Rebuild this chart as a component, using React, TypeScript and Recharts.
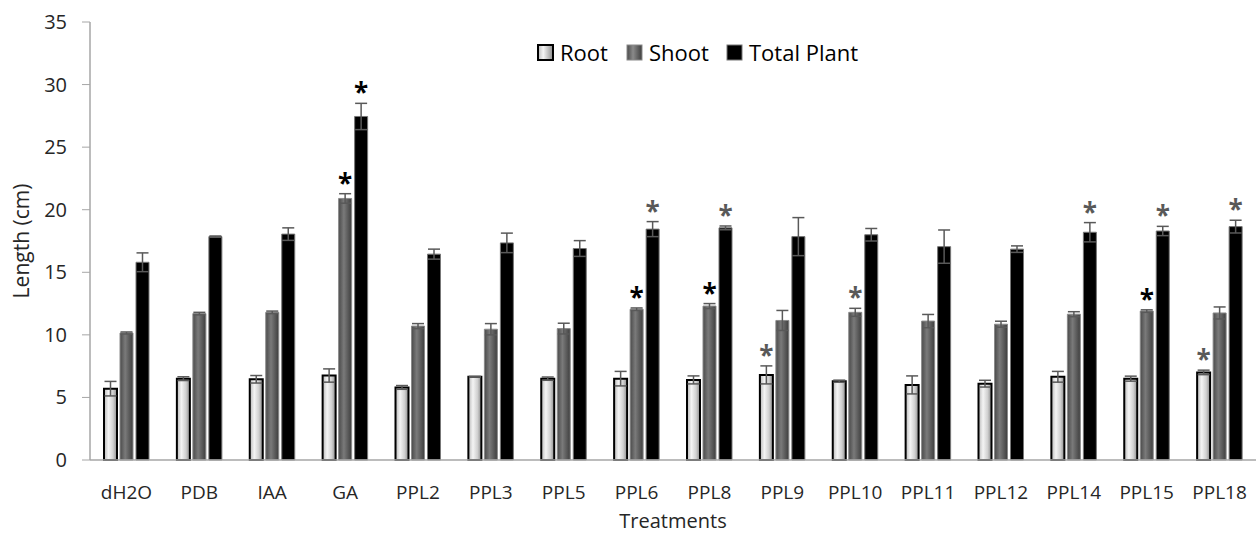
import { BarChart, Bar, XAxis, YAxis, ErrorBar, LabelList } from 'recharts'

const categories = ['dH2O', 'PDB', 'IAA', 'GA', 'PPL2', 'PPL3', 'PPL5', 'PPL6', 'PPL8', 'PPL9', 'PPL10', 'PPL11', 'PPL12', 'PPL14', 'PPL15', 'PPL18']
const root = [5.7, 6.5, 6.45, 6.75, 5.8, 6.65, 6.5, 6.5, 6.4, 6.8, 6.3, 6.0, 6.1, 6.65, 6.5, 7.0]
const rootErr = [0.58, 0.15, 0.3, 0.53, 0.15, 0.03, 0.13, 0.58, 0.32, 0.72, 0.08, 0.72, 0.27, 0.43, 0.2, 0.18]
const shoot = [10.15, 11.7, 11.8, 20.9, 10.7, 10.45, 10.5, 12.05, 12.3, 11.15, 11.8, 11.1, 10.85, 11.65, 11.9, 11.75]
const shootErr = [0.08, 0.1, 0.1, 0.38, 0.2, 0.45, 0.43, 0.1, 0.2, 0.8, 0.32, 0.53, 0.24, 0.2, 0.1, 0.48]
const total = [15.8, 17.85, 18.05, 27.45, 16.45, 17.35, 16.9, 18.45, 18.55, 17.85, 18.0, 17.05, 16.85, 18.2, 18.3, 18.65]
const totalErr = [0.75, 0.05, 0.5, 1.05, 0.4, 0.78, 0.63, 0.6, 0.15, 1.52, 0.5, 1.33, 0.26, 0.77, 0.37, 0.51]
// significance marks: 0 none, 1 dark star, 2 grey star
const rootStar = [0, 0, 0, 0, 0, 0, 0, 0, 0, 2, 0, 0, 0, 0, 0, 2]
const shootStar = [0, 0, 0, 1, 0, 0, 0, 1, 1, 0, 2, 0, 0, 0, 1, 0]
const totalStar = [0, 0, 0, 1, 0, 0, 0, 2, 2, 0, 0, 0, 0, 2, 2, 2]
const yTicks = [0, 5, 10, 15, 20, 25, 30, 35]

const data = categories.map((c, i) => ({
  name: c,
  root: root[i],
  rootErr: rootErr[i],
  shoot: shoot[i],
  shootErr: shootErr[i],
  total: total[i],
  totalErr: totalErr[i],
}))

const FONT = '"Open Sans", sans-serif'
const TEXT = '#262626'
const AXIS = '#a6a6a6'

const starLabel = (errs: number[], stars: number[]) => (props: any) => {
  const { x, y, width, height, value, index } = props
  const mark = stars[index]
  if (!mark) return null
  const px = value ? (errs[index] * height) / value : 0
  const top = y - px
  return (
    <text
      x={x + width / 2}
      y={top - 1}
      textAnchor="middle"
      fontFamily={FONT}
      fontWeight={700}
      fontSize={26}
      fill={mark === 1 ? '#000' : '#595959'}
    >
      *
    </text>
  )
}

const YTick = (props: any) => {
  const { y, payload } = props
  return (
    <text x={67} y={y} dy={7} textAnchor="end" fontFamily={FONT} fontSize={20} fill={TEXT}>
      {payload.value}
    </text>
  )
}

const XTick = (props: any) => {
  const { x, payload } = props
  return (
    <text x={x} y={499} textAnchor="middle" fontFamily={FONT} fontSize={19} fill={TEXT}>
      {payload.value}
    </text>
  )
}

const legendItems = [
  { label: 'Root', left: 537, fill: 'url(#lgRoot)', stroke: '#000', sw: 2 },
  { label: 'Shoot', left: 626, fill: 'url(#lgShoot)', stroke: '#8a8a8a', sw: 1 },
  { label: 'Total Plant', left: 726, fill: '#000', stroke: '#777', sw: 1 },
]

function LegendBox() {
  return (
    <div style={{ position: 'absolute', left: 0, top: 0, fontFamily: FONT, fontSize: 22, color: '#000' }}>
      <svg width={0} height={0} style={{ position: 'absolute' }}>
        <defs>
          <linearGradient id="lgRoot" x1="0" y1="0" x2="1" y2="0">
            <stop offset="0%" stopColor="#b8b8b8" />
            <stop offset="35%" stopColor="#f4f4f4" />
            <stop offset="100%" stopColor="#8c8c8c" />
          </linearGradient>
          <linearGradient id="lgShoot" x1="0" y1="0" x2="1" y2="0">
            <stop offset="0%" stopColor="#4a4a4a" />
            <stop offset="40%" stopColor="#8a8a8a" />
            <stop offset="100%" stopColor="#3e3e3e" />
          </linearGradient>
        </defs>
      </svg>
      {legendItems.map((it) => (
        <div
          key={it.label}
          style={{ position: 'absolute', left: it.left, top: 36, height: 32, display: 'flex', alignItems: 'center', whiteSpace: 'nowrap' }}
        >
          <svg width={17} height={17} style={{ marginRight: 6 }}>
            <rect x={1} y={1} width={15} height={15} fill={it.fill} stroke={it.stroke} strokeWidth={it.sw} />
          </svg>
          <span>{it.label}</span>
        </div>
      ))}
    </div>
  )
}

export default function App() {
  return (
    <div style={{ position: 'absolute', left: 0, top: 0, width: 1256, height: 535, background: '#fff' }}>
      <BarChart
        width={1256}
        height={535}
        data={data}
        margin={{ top: 22, right: 0, left: 0, bottom: 0 }}
        barSize={13}
        barGap={3}
      >
        <defs>
          <linearGradient id="gRoot" x1="0" y1="0" x2="1" y2="0">
            <stop offset="0%" stopColor="#b8b8b8" />
            <stop offset="35%" stopColor="#f4f4f4" />
            <stop offset="70%" stopColor="#d0d0d0" />
            <stop offset="100%" stopColor="#8c8c8c" />
          </linearGradient>
          <linearGradient id="gShoot" x1="0" y1="0" x2="1" y2="0">
            <stop offset="0%" stopColor="#4a4a4a" />
            <stop offset="40%" stopColor="#7a7a7a" />
            <stop offset="100%" stopColor="#3e3e3e" />
          </linearGradient>
        </defs>
        <XAxis
          dataKey="name"
          height={75}
          axisLine={{ stroke: AXIS, strokeWidth: 1.5 }}
          tickLine={false}
          tick={XTick}
          interval={0}
          label={{ value: 'Treatments', position: 'insideBottom', offset: 7, fontSize: 20, fill: TEXT, fontFamily: FONT }}
        />
        <YAxis
          width={90}
          domain={[0, 35]}
          ticks={yTicks}
          interval={0}
          axisLine={{ stroke: AXIS, strokeWidth: 1.5 }}
          tickLine={{ stroke: AXIS }}
          tickSize={8}
          tick={YTick}
          label={{
            value: 'Length (cm)',
            angle: -90,
            position: 'insideLeft',
            offset: 22,
            style: { textAnchor: 'middle', fontSize: 21, fill: TEXT, fontFamily: FONT },
          }}
        />
        <Bar dataKey="root" name="Root" fill="url(#gRoot)" stroke="#000" strokeWidth={2} isAnimationActive={false}>
          <ErrorBar dataKey="rootErr" direction="y" width={6} stroke="#595959" strokeWidth={1.5} />
          <LabelList dataKey="root" content={starLabel(rootErr, rootStar)} />
        </Bar>
        <Bar dataKey="shoot" name="Shoot" fill="url(#gShoot)" stroke="#8a8a8a" strokeWidth={1} isAnimationActive={false}>
          <ErrorBar dataKey="shootErr" direction="y" width={6} stroke="#595959" strokeWidth={1.5} />
          <LabelList dataKey="shoot" content={starLabel(shootErr, shootStar)} />
        </Bar>
        <Bar dataKey="total" name="Total Plant" fill="#000" stroke="#777" strokeWidth={1} isAnimationActive={false}>
          <ErrorBar dataKey="totalErr" direction="y" width={6} stroke="#595959" strokeWidth={1.5} />
          <LabelList dataKey="total" content={starLabel(totalErr, totalStar)} />
        </Bar>
      </BarChart>
      <LegendBox />
    </div>
  )
}
